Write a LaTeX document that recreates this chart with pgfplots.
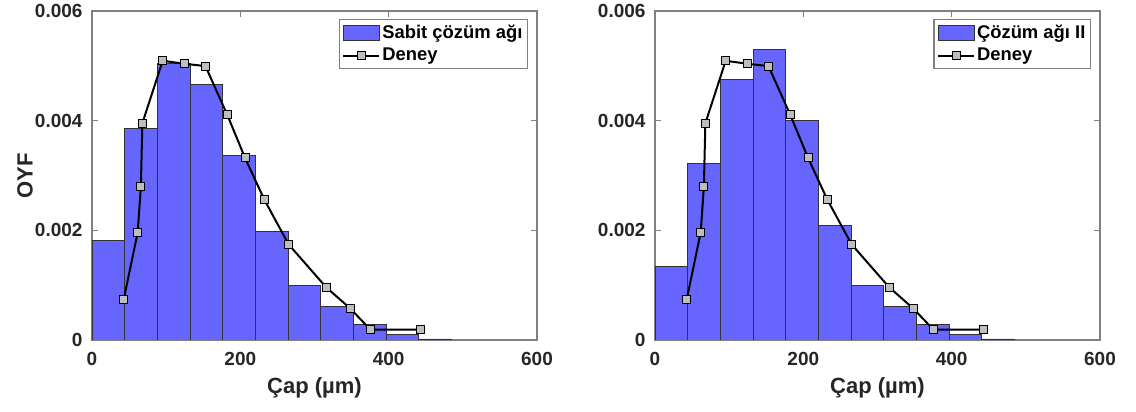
\documentclass[border=0pt]{standalone}
\usepackage{pgfplots}
\pgfplotsset{compat=1.18}
\usepackage{fontspec}
\setmainfont{Liberation Sans}

\definecolor{barblue}{RGB}{102,102,255}
\definecolor{boxgray}{RGB}{128,128,128}
\definecolor{labelgray}{RGB}{38,38,38}
\definecolor{markgray}{RGB}{190,190,190}

% Experimental size distribution (shared by both panels)
\pgfplotstableread{
x y
42.8 0.000743
61.6 0.001961
65.9 0.002796
67.9 0.003953
95.3 0.005092
124.6 0.005038
153.0 0.004995
182.4 0.004106
206.4 0.003320
232.4 0.002558
265.2 0.001742
315.7 0.000962
347.9 0.000579
375.4 0.000189
442.7 0.000189
}\deney

% Histogram of the fixed mesh (bin edges, height of bin starting there)
\pgfplotstableread{
x y
0      0.001821
44.05  0.003850
88.10  0.005037
132.15 0.004660
176.20 0.003369
220.25 0.001980
264.30 0.000987
308.35 0.000609
352.40 0.000286
396.45 0.0000975
440.50 0.000020
484.55 0
}\sabit

% Histogram of mesh II
\pgfplotstableread{
x y
0      0.001346
44.05  0.003228
88.10  0.004751
132.15 0.005293
176.20 0.004002
220.25 0.002083
264.30 0.000993
308.35 0.000609
352.40 0.000286
396.45 0.0000975
440.50 0.000020
484.55 0
}\agII

\pgfplotsset{
  histpanel/.style={
    scale only axis,
    width=222.5pt, height=164.5pt,
    anchor=south west,
    xmin=0, xmax=600, ymin=0, ymax=0.006,
    xtick={0,200,400,600},
    ytick={0,0.002,0.004,0.006},
    yticklabels={0,0.002,0.004,0.006},
    scaled y ticks=false,
    /pgf/number format/assume math mode=true,
    tick align=inside,
    major tick length=3pt,
    axis line style={draw=boxgray, line width=0.6pt},
    every tick/.style={draw=boxgray, line width=0.5pt},
    ticklabel style={font=\fontsize{9.5}{11}\selectfont\bfseries, text=labelgray},
    xticklabel style={yshift=-2.5pt},
    yticklabel style={xshift=-1.2pt},
    xlabel={Çap (µm)},
    xlabel style={at={(axis description cs:0.5,0)}, anchor=center, yshift=-24pt,
      font=\fontsize{11}{13}\selectfont\bfseries, text=labelgray},
    ylabel style={at={(axis description cs:0,0.5)}, anchor=center, yshift=33.5pt,
      font=\fontsize{11}{13}\selectfont\bfseries, text=labelgray},
    legend cell align=left,
    legend style={at={(1,1)}, anchor=north east, xshift=-4.5pt, yshift=-4pt,
      draw=boxgray, line width=0.6pt, fill=white,
      font=\fontsize{9.2}{10.5}\selectfont\bfseries, text=black,
      inner xsep=1.5pt, inner ysep=1pt, row sep=0pt,
      nodes={inner xsep=1pt, inner ysep=1.6pt}},
  },
  barimage/.style={legend image code/.code={
      \draw[fill=barblue, draw=black!80, line width=0.4pt] (0pt,-3.7pt) rectangle (18pt,3.7pt);}},
  lineimage/.style={legend image code/.code={
      \draw[black, line width=1pt] (0pt,0pt) -- (18pt,0pt);
      \draw[fill=markgray, draw=black, line width=0.5pt] (7pt,-2pt) rectangle (11pt,2pt);}},
  histbars/.style={ybar interval, fill=barblue, draw=black!80, line width=0.4pt, barimage},
  deneyline/.style={black, line width=1pt, mark=square*, mark size=2pt,
      mark options={fill=markgray, draw=black, line width=0.5pt, solid}, lineimage},
}

\begin{document}
\begin{tikzpicture}
\useasboundingbox (0,0) rectangle (568pt,206pt);

\begin{axis}[histpanel, at={(46pt,36pt)}, ylabel={OYF}]
  \addplot[histbars] table[x=x, y=y] {\sabit};
  \addlegendentry{Sabit çözüm ağı}
  \addplot[deneyline] table[x=x, y=y] {\deney};
  \addlegendentry{Deney}
\end{axis}

\begin{axis}[histpanel, at={(327.5pt,36pt)}]
  \addplot[histbars] table[x=x, y=y] {\agII};
  \addlegendentry{Çözüm ağı II}
  \addplot[deneyline] table[x=x, y=y] {\deney};
  \addlegendentry{Deney}
\end{axis}
\end{tikzpicture}
\end{document}
